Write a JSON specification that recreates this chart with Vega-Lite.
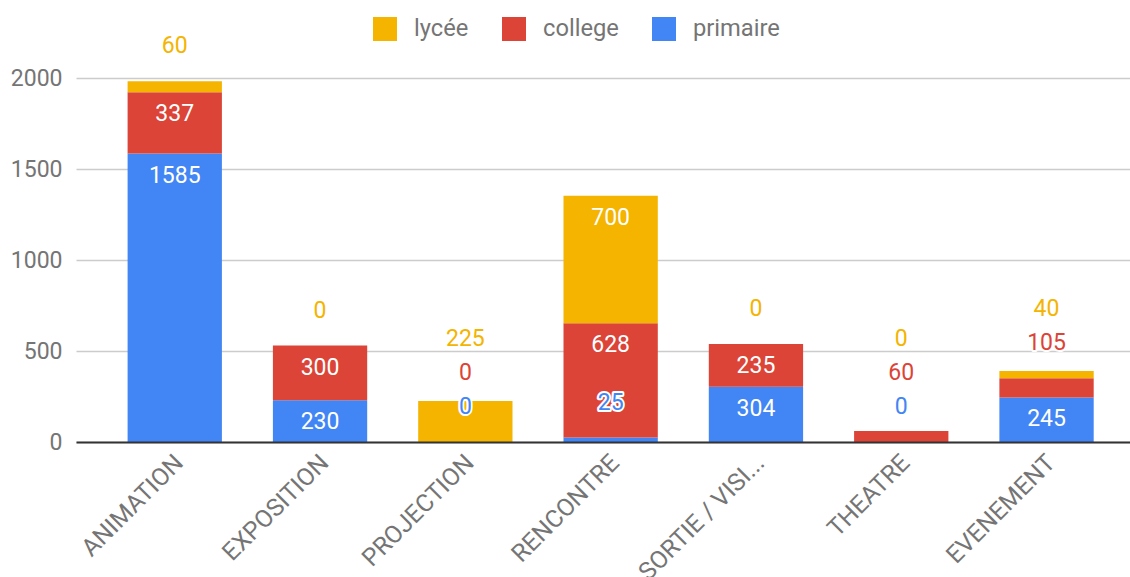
{
  "$schema": "https://vega.github.io/schema/vega-lite/v6.json",
  "width": 1054,
  "height": 364,
  "autosize": "none",
  "padding": {"left": 76, "top": 78, "right": 0, "bottom": 135},
  "background": "white",
  "config": {"font": "Roboto", "view": {"stroke": null}},
  "data": {
    "values": [
      {"cat": "ANIMATION", "series": "primaire", "value": 1585},
      {"cat": "ANIMATION", "series": "college", "value": 337},
      {"cat": "ANIMATION", "series": "lycée", "value": 60},
      {"cat": "EXPOSITION", "series": "primaire", "value": 230},
      {"cat": "EXPOSITION", "series": "college", "value": 300},
      {"cat": "EXPOSITION", "series": "lycée", "value": 0},
      {"cat": "PROJECTION", "series": "primaire", "value": 0},
      {"cat": "PROJECTION", "series": "college", "value": 0},
      {"cat": "PROJECTION", "series": "lycée", "value": 225},
      {"cat": "RENCONTRE", "series": "primaire", "value": 25},
      {"cat": "RENCONTRE", "series": "college", "value": 628},
      {"cat": "RENCONTRE", "series": "lycée", "value": 700},
      {"cat": "SORTIE / VISI...", "series": "primaire", "value": 304},
      {"cat": "SORTIE / VISI...", "series": "college", "value": 235},
      {"cat": "SORTIE / VISI...", "series": "lycée", "value": 0},
      {"cat": "THEATRE", "series": "primaire", "value": 0},
      {"cat": "THEATRE", "series": "college", "value": 60},
      {"cat": "THEATRE", "series": "lycée", "value": 0},
      {"cat": "EVENEMENT", "series": "primaire", "value": 245},
      {"cat": "EVENEMENT", "series": "college", "value": 105},
      {"cat": "EVENEMENT", "series": "lycée", "value": 40}
    ]
  },
  "transform": [
    {"calculate": "indexof(['primaire','college','lycée'], datum.series)", "as": "ord"},
    {"stack": "value", "groupby": ["cat"], "sort": [{"field": "ord"}], "as": ["v0", "v1"]},
    {"window": [{"op": "row_number", "as": "rn"}], "groupby": ["cat"], "sort": [{"field": "ord"}]},
    {"calculate": "datum.value >= 230 ? datum.v1 - 110 : datum.v1 + 203", "as": "nat"},
    {"calculate": "datum.nat - 187 * datum.rn", "as": "adj"},
    {"window": [{"op": "max", "field": "adj", "as": "madj"}], "groupby": ["cat"], "sort": [{"field": "ord"}], "frame": [null, 0]},
    {"calculate": "datum.madj + 187 * datum.rn", "as": "ly"}
  ],
  "encoding": {
    "x": {
      "field": "cat",
      "type": "nominal",
      "sort": null,
      "scale": {"paddingInner": 0.351, "paddingOuter": 0.3025, "align": 0.587},
      "axis": {
        "title": null,
        "labelAngle": -45,
        "labelAlign": "right",
        "labelBaseline": "middle",
        "labelFontSize": 24.5,
        "labelColor": "#757575",
        "ticks": false,
        "grid": false,
        "domainColor": "#333333",
        "domainWidth": 2,
        "labelPadding": 17,
        "labelOffset": 5,
        "labelLimit": 300,
        "zindex": 1
      }
    }
  },
  "layer": [
    {
      "mark": {"type": "bar"},
      "encoding": {
        "y": {
          "field": "v0",
          "type": "quantitative",
          "scale": {"domain": [0, 2000], "nice": false},
          "axis": {"title": null, "values": [0, 500, 1000, 1500, 2000], "format": "d", "ticks": false, "domain": false, "labelFontSize": 23, "labelColor": "#757575", "labelPadding": 14, "gridColor": "#cccccc", "gridWidth": 1.3}
        },
        "y2": {"field": "v1"},
        "color": {
          "field": "series",
          "type": "nominal",
          "scale": {"domain": ["lycée", "college", "primaire"], "range": ["#F4B400", "#DB4437", "#4285F4"]},
          "legend": {
            "title": null,
            "orient": "none",
            "legendX": 297,
            "legendY": -61,
            "direction": "horizontal",
            "symbolType": "square",
            "symbolSize": 576,
            "symbolStrokeWidth": 0,
            "symbolOpacity": 1,
            "labelFontSize": 23.7,
            "labelColor": "#757575",
            "labelOffset": 17,
            "columnPadding": 33,
            "padding": 0
          }
        }
      }
    },
    {
      "transform": [{"filter": "datum.value >= 230"}],
      "mark": {"type": "text", "color": "white", "fontSize": 23, "baseline": "middle", "dy": 2},
      "encoding": {
        "y": {"field": "ly", "type": "quantitative", "axis": {"title": null, "values": [0, 500, 1000, 1500, 2000], "format": "d", "ticks": false, "domain": false, "labelFontSize": 23, "labelColor": "#757575", "labelPadding": 14, "gridColor": "#cccccc", "gridWidth": 1.3}},
        "text": {"field": "value", "type": "quantitative"}
      }
    },
    {
      "transform": [{"filter": "datum.value < 230"}],
      "mark": {"type": "text", "fill": "white", "stroke": "white", "strokeWidth": 4, "strokeJoin": "round", "fontSize": 23, "baseline": "middle", "dy": 2},
      "encoding": {
        "y": {"field": "ly", "type": "quantitative", "axis": {"title": null, "values": [0, 500, 1000, 1500, 2000], "format": "d", "ticks": false, "domain": false, "labelFontSize": 23, "labelColor": "#757575", "labelPadding": 14, "gridColor": "#cccccc", "gridWidth": 1.3}},
        "text": {"field": "value", "type": "quantitative"}
      }
    },
    {
      "transform": [{"filter": "datum.value < 230"}],
      "mark": {"type": "text", "fontSize": 23, "baseline": "middle", "dy": 2},
      "encoding": {
        "y": {"field": "ly", "type": "quantitative", "axis": {"title": null, "values": [0, 500, 1000, 1500, 2000], "format": "d", "ticks": false, "domain": false, "labelFontSize": 23, "labelColor": "#757575", "labelPadding": 14, "gridColor": "#cccccc", "gridWidth": 1.3}},
        "text": {"field": "value", "type": "quantitative"},
        "color": {"field": "series", "type": "nominal", "legend": null}
      }
    }
  ]
}
